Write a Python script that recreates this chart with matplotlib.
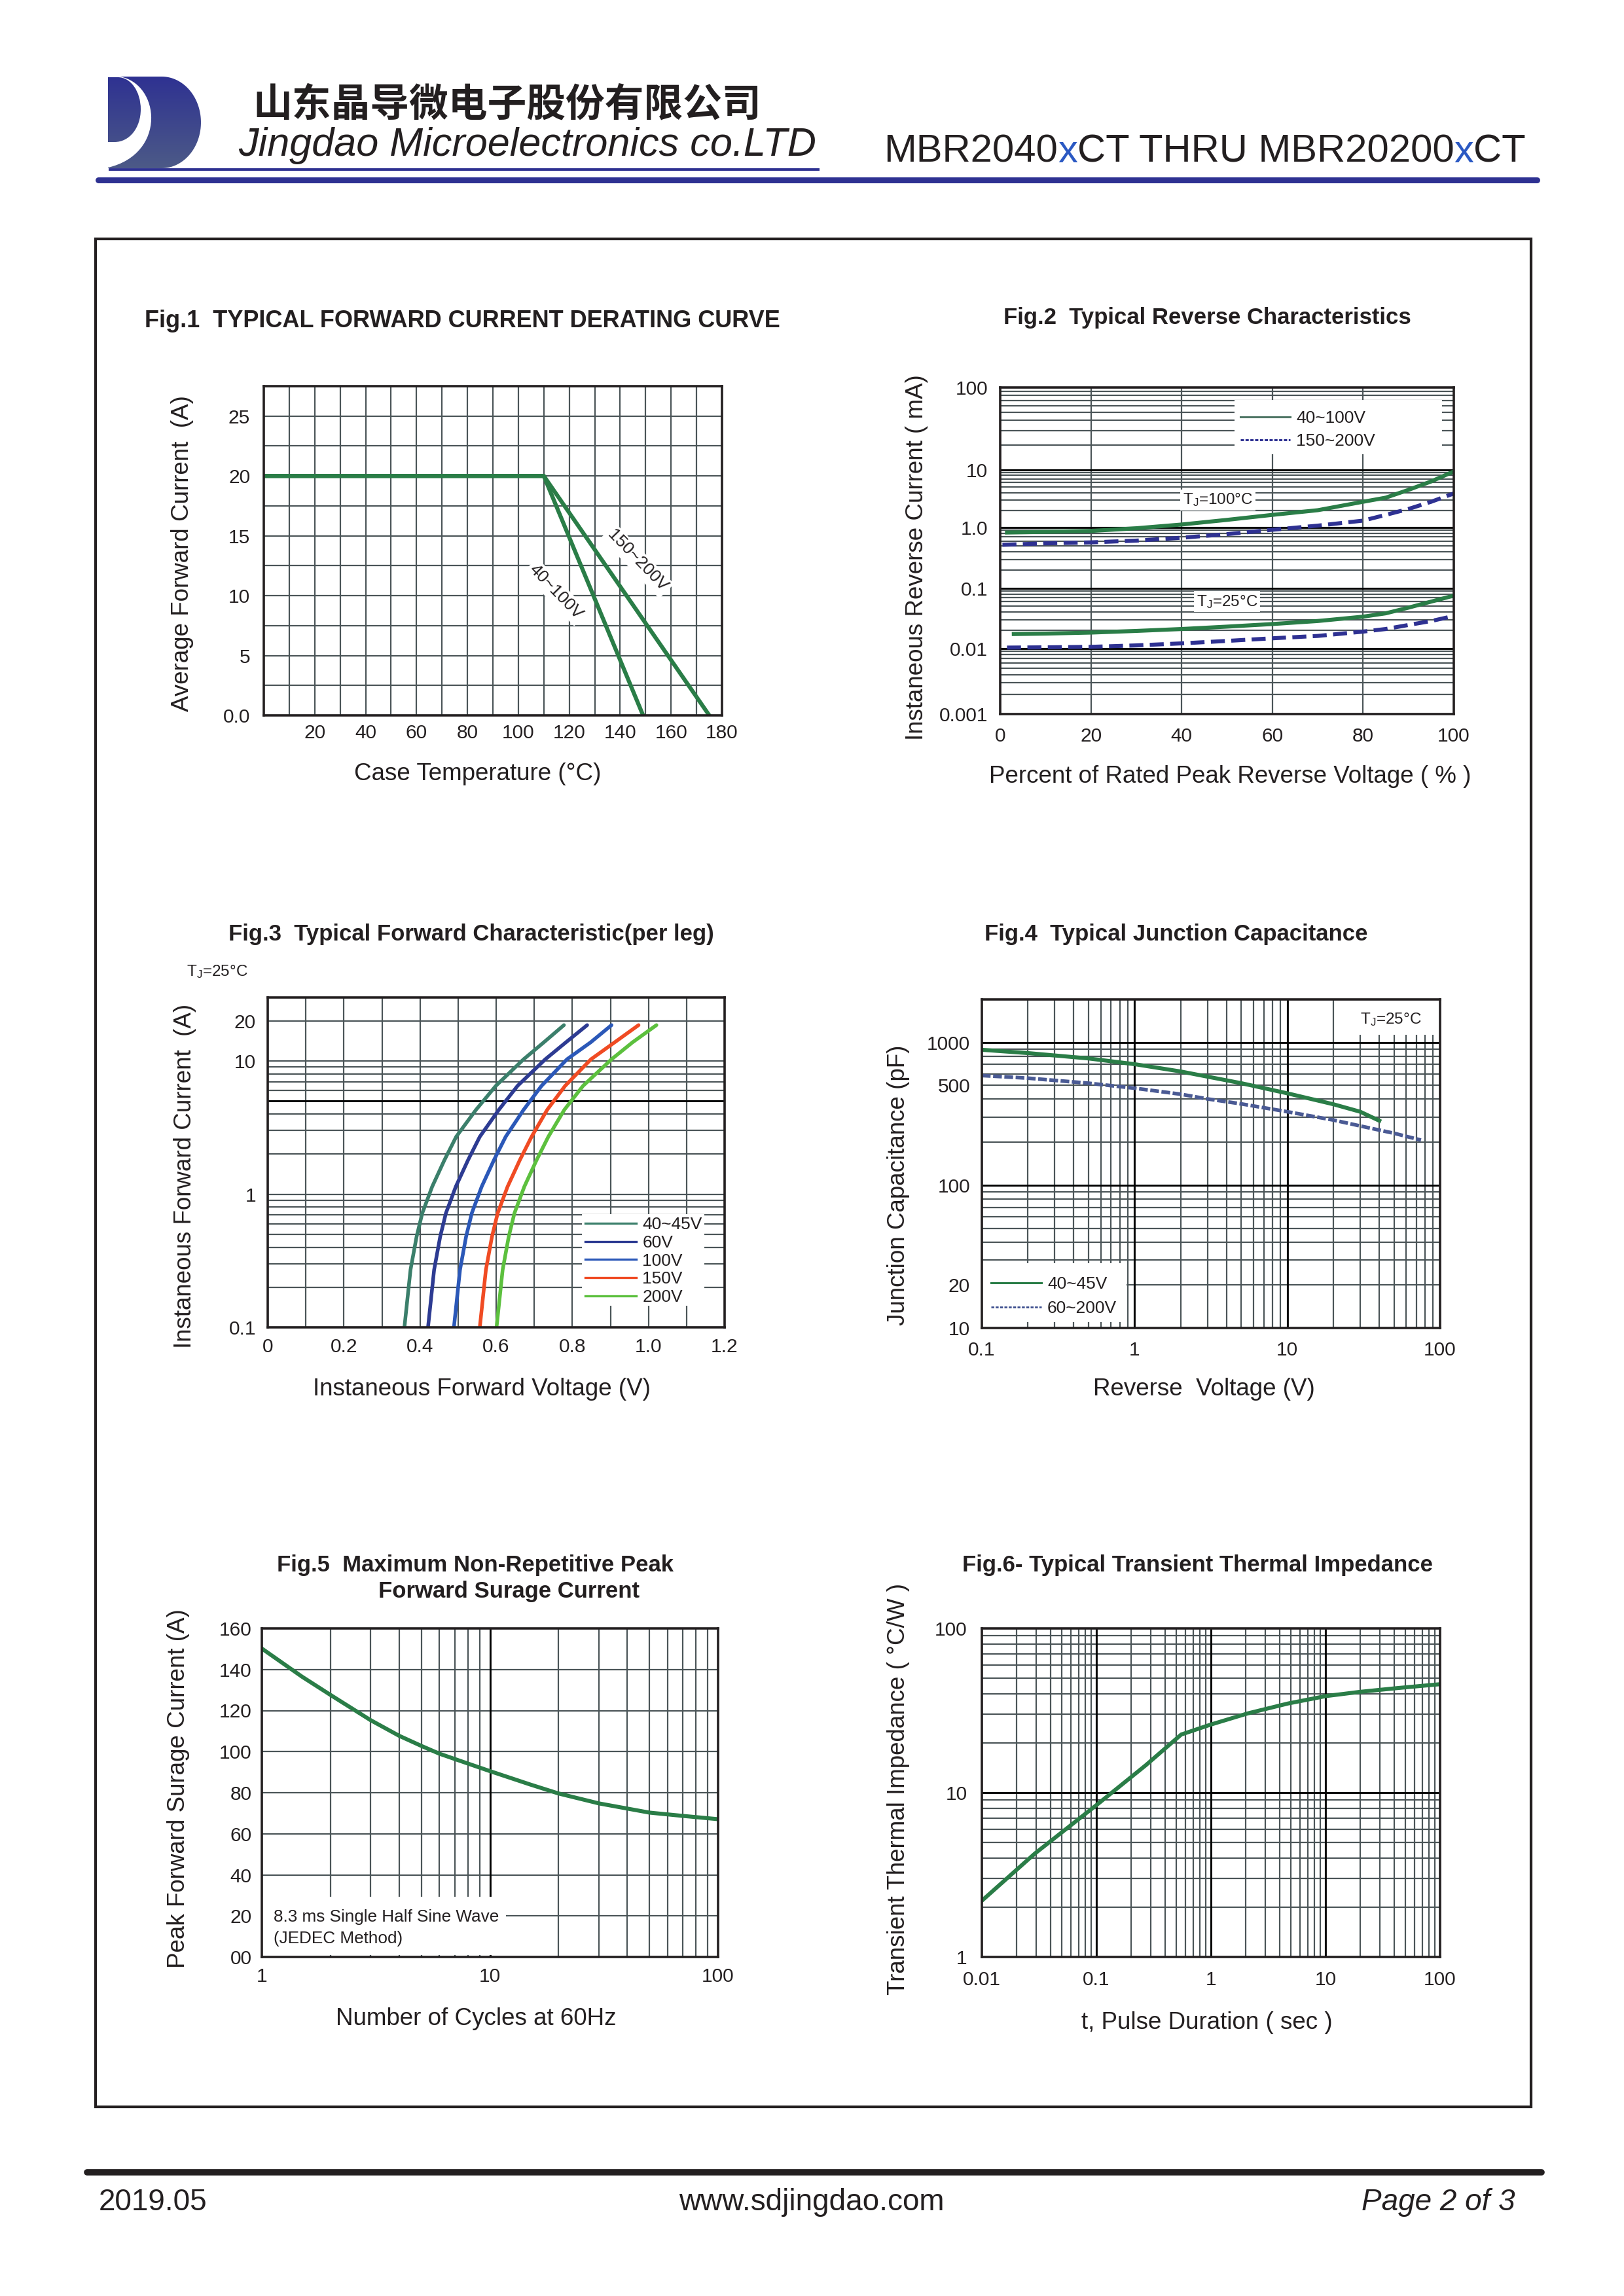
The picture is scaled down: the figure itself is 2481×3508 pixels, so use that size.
import numpy as np
import matplotlib
matplotlib.use('Agg')
import matplotlib.pyplot as plt
from matplotlib.patches import Rectangle, PathPatch
from matplotlib.path import Path
from matplotlib.lines import Line2D
from matplotlib.ticker import FixedLocator, NullFormatter

# ====================== DATA ======================
# Fig.1  derating curve
fig1_temp_40_100 = [0, 110, 149]
fig1_curr_40_100 = [20, 20, 0]
fig1_temp_150_200 = [0, 110, 175]
fig1_curr_150_200 = [20, 20, 0]

# Fig.2  reverse characteristics (% of rated voltage, mA)
fig2_pct_g100 = [1.5, 10, 20, 30, 40, 50, 60, 70, 80, 85, 90, 95, 100]
fig2_ir_g100 = [0.83, 0.85, 0.88, 0.975, 1.13, 1.36, 1.66, 2.0, 2.8, 3.3, 4.5, 6.3, 9.4]
fig2_pct_b100 = [0.5, 10, 20, 30, 40, 50, 60, 70, 80, 85, 90, 95, 100]
fig2_ir_b100 = [0.52, 0.55, 0.57, 0.61, 0.68, 0.78, 0.92, 1.08, 1.32, 1.66, 2.1, 2.8, 3.9]
fig2_pct_g25 = [3, 10, 20, 30, 40, 50, 60, 70, 80, 85, 90, 95, 100]
fig2_ir_g25 = [0.0173, 0.0176, 0.0183, 0.0195, 0.021, 0.023, 0.0254, 0.0285, 0.0337, 0.0383, 0.0476, 0.060, 0.0755]
fig2_pct_b25 = [1.5, 10, 20, 30, 40, 50, 60, 70, 80, 85, 90, 95, 100]
fig2_ir_b25 = [0.0103, 0.0104, 0.0106, 0.0112, 0.0121, 0.0133, 0.0147, 0.0161, 0.019, 0.021, 0.0245, 0.0285, 0.0346]
fig2_legend = ['40~100V', '150~200V']

# Fig.3  forward characteristic (A vs V)
fig3_current = [0.1, 0.27, 0.48, 0.72, 1.14, 1.8, 2.7, 4.3, 6.5, 10.3, 13.8, 18.6]
fig3_v_40_45 = [0.359, 0.375, 0.391, 0.406, 0.432, 0.464, 0.495, 0.547, 0.599, 0.672, 0.725, 0.778]
fig3_v_60 = [0.421, 0.437, 0.453, 0.468, 0.494, 0.526, 0.557, 0.607, 0.656, 0.729, 0.783, 0.839]
fig3_v_100 = [0.489, 0.505, 0.521, 0.536, 0.562, 0.594, 0.625, 0.672, 0.719, 0.786, 0.848, 0.903]
fig3_v_150 = [0.557, 0.573, 0.589, 0.604, 0.630, 0.662, 0.693, 0.734, 0.781, 0.849, 0.911, 0.974]
fig3_v_200 = [0.601, 0.617, 0.633, 0.648, 0.674, 0.706, 0.737, 0.779, 0.828, 0.903, 0.958, 1.021]
fig3_labels = ['40~45V', '60V', '100V', '150V', '200V']

# Fig.4  junction capacitance (V, pF)
fig4_v_40_45 = [0.1, 0.2, 0.5, 1, 2, 5, 10, 20, 30, 40]
fig4_c_40_45 = [888, 842, 772, 704, 626, 518, 440, 369, 327, 283]
fig4_v_60_200 = [0.1, 0.2, 0.5, 1, 2, 3, 5, 10, 20, 30, 50, 75]
fig4_c_60_200 = [586, 562, 518, 478, 434, 402, 371, 327, 286, 260, 231, 207]
fig4_legend = ['40~45V', '60~200V']

# Fig.5  surge current
fig5_cycles = [1, 1.5, 2, 3, 4, 5, 6, 8, 10, 15, 20, 30, 50, 70, 100]
fig5_current = [150.2, 136.5, 127.6, 115.3, 107.7, 102.8, 99.0, 94.2, 90.5, 84.0, 79.6, 74.8, 70.3, 68.7, 67.1]
fig5_yticklabels = ['00', '20', '40', '60', '80', '100', '120', '140', '160']

# Fig.6  transient thermal impedance
fig6_t = [0.01, 0.029, 0.1, 0.27, 0.55, 1.0, 2.1, 4.7, 10, 20, 42, 95]
fig6_z = [2.2, 4.26, 8.4, 14.7, 22.6, 26.0, 30.4, 34.9, 38.7, 41.1, 43.3, 45.6]

# ====================== STYLE ======================
TXT = '#231f20'
GRID = '#4b5558'
GREEN = '#2a7d47'
NAVY = '#2e3192'
plt.rcParams['font.family'] = ['Liberation Sans', 'DejaVu Sans']
plt.rcParams['mathtext.fontset'] = 'custom'
plt.rcParams['mathtext.rm'] = 'Liberation Sans'
plt.rcParams['mathtext.it'] = 'Liberation Sans:italic'
plt.rcParams['text.color'] = TXT

W, H = 2481, 3508
fig = plt.figure(figsize=(W / 100, H / 100), dpi=100)
ov = fig.add_axes([0, 0, 1, 1])
ov.set_xlim(0, W)
ov.set_ylim(H, 0)
ov.axis('off')


def px_axes(L, T, R, B):
    return fig.add_axes([L / W, 1 - B / H, (R - L) / W, (B - T) / H])


def setup(ax, xmaj, xlab, ymaj, ylab, xminor, yminor, xpad, ypad):
    ax.set_xticks(xmaj)
    ax.set_xticklabels(xlab)
    ax.set_yticks(ymaj)
    ax.set_yticklabels(ylab)
    ax.xaxis.set_minor_locator(FixedLocator(xminor))
    ax.yaxis.set_minor_locator(FixedLocator(yminor))
    ax.xaxis.set_minor_formatter(NullFormatter())
    ax.yaxis.set_minor_formatter(NullFormatter())
    ax.tick_params(which='both', length=0, labelsize=21.5, labelcolor=TXT)
    ax.tick_params(axis='x', pad=xpad)
    ax.tick_params(axis='y', pad=ypad)
    ax.grid(True, which='both', color=GRID, lw=1.6)
    ax.set_axisbelow(True)
    for sp in ax.spines.values():
        sp.set_linewidth(2.6)
        sp.set_color(TXT)
        sp.set_zorder(10)


def minors(decades):
    return [m * d for d in decades for m in range(2, 10)]


def ftext(x, y, s, **kw):
    return ov.text(x, y, s, **kw)


# ====================== HEADER ======================
# logo
Dpath_theta = np.linspace(-np.pi / 2, np.pi / 2, 60)
d_verts = [(165, 117)] + [(247 + 60 * np.cos(t), 187 + 70 * np.sin(t)) for t in Dpath_theta] + [(165, 257), (165, 117)]
d_codes = [Path.MOVETO] + [Path.LINETO] * (len(d_verts) - 2) + [Path.CLOSEPOLY]
big_d = PathPatch(Path(d_verts, d_codes), fc='none', ec='none')
ov.add_patch(big_d)
grad = np.linspace(0, 1, 256).reshape(-1, 1)
cmap = matplotlib.colors.LinearSegmentedColormap.from_list('logo', ['#2e3192', '#4d5b87'])
im1 = ov.imshow(grad, cmap=cmap, extent=(160, 312, 260, 114), origin='upper', aspect='auto', zorder=1)
im1.set_clip_path(big_d)
crescent = Path([(165, 117), (183, 117), (245, 128), (255, 235), (165, 256), (165, 117)],
                [Path.MOVETO, Path.LINETO, Path.CURVE4, Path.CURVE4, Path.CURVE4, Path.CLOSEPOLY])
ov.add_patch(PathPatch(crescent, fc='white', ec='none', zorder=2))
small_d = PathPatch(Path([(165, 118), (180, 118), (200, 118), (215, 140), (215, 167),
                          (215, 195), (198, 217), (175, 217), (165, 217), (165, 118)],
                         [Path.MOVETO, Path.LINETO, Path.CURVE4, Path.CURVE4, Path.CURVE4,
                          Path.CURVE4, Path.CURVE4, Path.CURVE4, Path.LINETO, Path.CLOSEPOLY]),
                    fc='none', ec='none')
ov.add_patch(small_d)
im2 = ov.imshow(grad, cmap=cmap, extent=(160, 312, 260, 114), origin='upper', aspect='auto', zorder=3)
im2.set_clip_path(small_d)
ov.set_xlim(0, W)
ov.set_ylim(H, 0)

ov.plot([166, 1252], [258.5, 258.5], color=NAVY, lw=2.8, solid_capstyle='butt')
ov.plot([150, 2348], [274.5, 274.5], color=NAVY, lw=6.5, solid_capstyle='round')

ftext(386, 160, '山东晶导微电子股份有限公司', fontsize=43, fontweight='bold',
      family=['Noto Sans CJK SC', 'DejaVu Sans'], va='center', ha='left')
ftext(364, 238, 'Jingdao Microelectronics co.LTD', fontsize=44, style='italic', va='baseline')

renderer = fig.canvas.get_renderer()
xx = 1350
for seg, col in [('MBR2040', TXT), ('x', '#2b59c3'), ('CT THRU MBR20200', TXT), ('x', '#2b59c3'), ('CT', TXT)]:
    t = ftext(xx, 248, seg, fontsize=43, color=col, va='baseline')
    xx += t.get_window_extent(renderer=renderer).width

# frame
ov.add_patch(Rectangle((146, 365), 2193, 2854, fill=False, lw=3, ec=TXT, zorder=1))

# footer
ov.plot([133, 2355], [3319, 3319], color=TXT, lw=7, solid_capstyle='round')
ftext(151, 3377, '2019.05', fontsize=33, va='baseline')
ftext(1240, 3377, 'www.sdjingdao.com', fontsize=33, va='baseline', ha='center')
ftext(2315, 3377, 'Page 2 of 3', fontsize=33, va='baseline', ha='right', style='italic')

LBL = 26.5
TIT = 25

# ====================== FIG 1 ======================
ax1 = px_axes(403, 590, 1103, 1093)
ax1.set_xlim(0, 180)
ax1.set_ylim(0, 27.5)
setup(ax1, np.arange(20, 181, 20), [str(v) for v in range(20, 181, 20)],
      np.arange(0, 26, 5), ['0.0', '5', '10', '15', '20', '25'],
      np.arange(10, 180, 20), np.arange(2.5, 25, 5), 9.6, 15)
ax1.plot(fig1_temp_40_100, fig1_curr_40_100, color=GREEN, lw=4.5, zorder=3)
ax1.plot(fig1_temp_150_200, fig1_curr_150_200, color=GREEN, lw=4.5, zorder=3)
ax1.text(146.8, 12.9, '150~200V', rotation=-46, ha='center', va='center', fontsize=19, zorder=4,
         bbox=dict(boxstyle='square,pad=0.15', fc='white', ec='none'))
ax1.text(114.7, 10.3, '40~100V', rotation=-46, ha='center', va='center', fontsize=19, zorder=4,
         bbox=dict(boxstyle='square,pad=0.15', fc='white', ec='none'))
ftext(221, 491, 'Fig.1  TYPICAL FORWARD CURRENT DERATING CURVE', fontsize=26, fontweight='bold', va='center')
ftext(279, 846, 'Average Forward Current  (A)', fontsize=LBL, rotation=90, ha='center', va='center')
ftext(730, 1182, 'Case Temperature (°C)', fontsize=LBL, ha='center', va='center')

# ====================== FIG 2 ======================
FIG2_LOG = [-3, -2, -1, 0, 1, 2]
FIG2_FRAC = [0.0, 0.2012, 0.3851, 0.571, 0.7477, 1.0]


def f2_fwd(y):
    return np.interp(np.log10(np.clip(np.asarray(y, dtype=float), 1e-9, None)), FIG2_LOG, FIG2_FRAC)


def f2_inv(f):
    return 10 ** np.interp(np.asarray(f, dtype=float), FIG2_FRAC, FIG2_LOG)


ax2 = px_axes(1528, 592, 2221, 1091)
ax2.set_yscale('function', functions=(f2_fwd, f2_inv))
ax2.set_xlim(0, 100)
ax2.set_ylim(1e-3, 100)
setup(ax2, np.arange(0, 101, 20), [str(v) for v in range(0, 101, 20)],
      [1e-3, 1e-2, 1e-1, 1, 10, 100], ['0.001', '0.01', '0.1', '1.0', '10', '100'],
      [], minors([1e-3, 1e-2, 1e-1, 1, 10]), 14.6, 13.7)
for v in [1e-2, 1e-1, 1, 10]:
    ax2.axhline(v, color='black', lw=2.0, zorder=1)
ax2.plot(fig2_pct_g100, fig2_ir_g100, color=GREEN, lw=4.4, zorder=3)
ax2.plot(fig2_pct_b100, fig2_ir_b100, color=NAVY, lw=4.4, dashes=(3.5, 1.6), zorder=3)
ax2.plot(fig2_pct_g25, fig2_ir_g25, color=GREEN, lw=4.4, zorder=3)
ax2.plot(fig2_pct_b25, fig2_ir_b25, color=NAVY, lw=4.4, dashes=(3.5, 1.6), zorder=3)
ax2.add_patch(Rectangle((0.517, 0.795), 0.457, 0.167, transform=ax2.transAxes, fc='white', ec='none', zorder=2))
h2 = [Line2D([], [], color='#4e7565', lw=2.2), Line2D([], [], color=NAVY, lw=2.2, dashes=(1.6, 0.8))]
ax2.legend(h2, fig2_legend, loc='upper left', bbox_to_anchor=(0.5295, 0.930), frameon=False, borderpad=0,
           borderaxespad=0, handlelength=2.88, handletextpad=0.34, labelspacing=0.42, fontsize=19, labelcolor=TXT)
ax2.text(48, 3.0, r'T$_{\rm J}$=100°C', ha='center', va='center', fontsize=17.5, zorder=4,
         bbox=dict(boxstyle='square,pad=0.15', fc='white', ec='none'))
ax2.text(50, 0.06, r'T$_{\rm J}$=25°C', ha='center', va='center', fontsize=17.5, zorder=4,
         bbox=dict(boxstyle='square,pad=0.15', fc='white', ec='none'))
ftext(1844, 486, 'Fig.2  Typical Reverse Characteristics', fontsize=TIT, fontweight='bold', ha='center', va='center')
ftext(1401, 852, 'Instaneous Reverse Current ( mA)', fontsize=LBL, rotation=90, ha='center', va='center')
ftext(1879, 1187, 'Percent of Rated Peak Reverse Voltage ( % )', fontsize=LBL, ha='center', va='center')

# ====================== FIG 3 ======================
ax3 = px_axes(409, 1524, 1107, 2028)
ax3.set_yscale('log')
ax3.set_xlim(0, 1.2)
ax3.set_ylim(0.1, 30)
setup(ax3, [0, 0.2, 0.4, 0.6, 0.8, 1.0, 1.2], ['0', '0.2', '0.4', '0.6', '0.8', '1.0', '1.2'],
      [0.1, 1, 10, 20], ['0.1', '1', '10', '20'],
      [0.1, 0.3, 0.5, 0.7, 0.9, 1.1], minors([0.1, 1]), 11.7, 13)
ax3.axhline(5, color='black', lw=2.0, zorder=1)
fig3_colors = ['#3b7f6b', '#2d3b92', '#2b58b8', '#f04b23', '#5cc03e']
for vs, col in zip([fig3_v_40_45, fig3_v_60, fig3_v_100, fig3_v_150, fig3_v_200], fig3_colors):
    ax3.plot(vs, fig3_current, color=col, lw=4.0, zorder=3, solid_capstyle='round')
ax3.add_patch(Rectangle((0.688, 0.065), 0.268, 0.278, transform=ax3.transAxes, fc='white', ec='none', zorder=2))
h3 = [Line2D([], [], color=c, lw=2.4) for c in fig3_colors]
ax3.legend(h3, fig3_labels, loc='upper left', bbox_to_anchor=(0.695, 0.335), frameon=False, borderpad=0,
           borderaxespad=0, handlelength=2.95, handletextpad=0.35, labelspacing=0.14, fontsize=19, labelcolor=TXT)
ftext(720, 1428, 'Fig.3  Typical Forward Characteristic(per leg)', fontsize=TIT, fontweight='bold', ha='center', va='center')
ftext(285, 1485, r'T$_{\rm J}$=25°C', fontsize=17.5, va='center')
ftext(282, 1797, 'Instaneous Forward Current  (A)', fontsize=LBL, rotation=90, ha='center', va='center')
ftext(736, 2122, 'Instaneous Forward Voltage (V)', fontsize=LBL, ha='center', va='center')

# ====================== FIG 4 ======================
ax4 = px_axes(1500, 1527, 2200, 2029)
ax4.set_xscale('log')
ax4.set_yscale('log')
ax4.set_xlim(0.1, 100)
ax4.set_ylim(10, 2000)
setup(ax4, [0.1, 1, 10, 100], ['0.1', '1', '10', '100'],
      [10, 20, 100, 500, 1000], ['10', '20', '100', '500', '1000'],
      minors([0.1, 1, 10]), minors([10, 100]), 14.6, 13)
for v in [1, 10]:
    ax4.axvline(v, color='black', lw=2.0, zorder=1)
for v in [100, 1000]:
    ax4.axhline(v, color='black', lw=2.0, zorder=1)
ax4.plot(fig4_v_40_45, fig4_c_40_45, color=GREEN, lw=4.4, zorder=3)
ax4.plot(fig4_v_60_200, fig4_c_60_200, color='#4a5a94', lw=4.0, dashes=(2.4, 0.7), zorder=3)
ax4.add_patch(Rectangle((0.818, 0.892), 0.182, 0.108, transform=ax4.transAxes, fc='white', ec='none', zorder=2))
ax4.text(0.892, 0.940, r'T$_{\rm J}$=25°C', transform=ax4.transAxes, ha='center', va='center', fontsize=17.5, zorder=4)
ax4.add_patch(Rectangle((0.0, 0.018), 0.315, 0.179, transform=ax4.transAxes, fc='white', ec='none', zorder=2))
h4 = [Line2D([], [], color=GREEN, lw=2.2), Line2D([], [], color='#3d4f8e', lw=2.0, dashes=(1.6, 0.8))]
ax4.legend(h4, fig4_legend, loc='upper left', bbox_to_anchor=(0.020, 0.157), frameon=False, borderpad=0,
           borderaxespad=0, handlelength=2.92, handletextpad=0.34, labelspacing=0.49, fontsize=19, labelcolor=TXT)
ftext(1797, 1428, 'Fig.4  Typical Junction Capacitance', fontsize=TIT, fontweight='bold', ha='center', va='center')
ftext(1373, 1811, 'Junction Capacitance (pF)', fontsize=LBL, rotation=90, ha='center', va='center')
ftext(1839, 2122, 'Reverse  Voltage (V)', fontsize=LBL, ha='center', va='center')

# ====================== FIG 5 ======================
ax5 = px_axes(400, 2488, 1097, 2990)
ax5.set_xscale('log')
ax5.set_xlim(1, 100)
ax5.set_ylim(0, 160)
setup(ax5, [1, 10, 100], ['1', '10', '100'],
      np.arange(0, 161, 20), fig5_yticklabels,
      minors([1, 10]), [], 11.7, 11)
ax5.axvline(10, color='black', lw=2.0, zorder=1)
ax5.plot(fig5_cycles, fig5_current, color=GREEN, lw=4.4, zorder=3)
ax5.add_patch(Rectangle((0.0, 0.005), 0.535, 0.178, transform=ax5.transAxes, fc='white', ec='none', zorder=2))
ax5.text(0.026, 0.1215, '8.3 ms Single Half Sine Wave', transform=ax5.transAxes, fontsize=18.8, va='center', zorder=4)
ax5.text(0.026, 0.056, '(JEDEC Method)', transform=ax5.transAxes, fontsize=18.8, va='center', zorder=4)
ftext(726, 2391, 'Fig.5  Maximum Non-Repetitive Peak', fontsize=TIT, fontweight='bold', ha='center', va='center')
ftext(777, 2432, 'Forward Surage Current', fontsize=TIT, fontweight='bold', ha='center', va='center')
ftext(273, 2733, 'Peak Forward Surage Current (A)', fontsize=LBL, rotation=90, ha='center', va='center')
ftext(727, 3085, 'Number of Cycles at 60Hz', fontsize=LBL, ha='center', va='center')

# ====================== FIG 6 ======================
ax6 = px_axes(1500, 2488, 2200, 2990)
ax6.set_xscale('log')
ax6.set_yscale('log')
ax6.set_xlim(0.01, 100)
ax6.set_ylim(1, 100)
setup(ax6, [0.01, 0.1, 1, 10, 100], ['0.01', '0.1', '1', '10', '100'],
      [1, 10, 100], ['1', '10', '100'],
      minors([0.01, 0.1, 1, 10]), minors([1, 10]), 15.3, 16)
for v in [0.1, 1, 10]:
    ax6.axvline(v, color='black', lw=2.0, zorder=1)
ax6.axhline(10, color='black', lw=2.0, zorder=1)
ax6.plot(fig6_t, fig6_z, color=GREEN, lw=4.4, zorder=3)
ftext(1830, 2391, 'Fig.6- Typical Transient Thermal Impedance', fontsize=TIT, fontweight='bold', ha='center', va='center')
ftext(1373, 2733, 'Transient Thermal Impedance ( °C/W )', fontsize=LBL, rotation=90, ha='center', va='center')
ftext(1844, 3090, 't, Pulse Duration ( sec )', fontsize=LBL, ha='center', va='center')

fig.savefig('out.png', dpi=100, facecolor='white')
